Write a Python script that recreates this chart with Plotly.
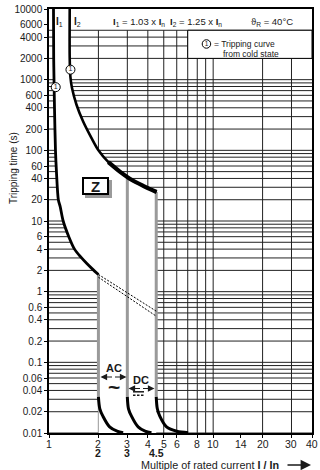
import math
import plotly.graph_objects as go

# ---------------- data ----------------
# I1 boundary (lower tripping limit), multiple of In vs seconds
i1_x = [1.065, 1.068, 1.073, 1.08, 1.095, 1.11, 1.14, 1.17, 1.22, 1.32, 1.43, 1.56, 1.70, 1.855, 2.0]
i1_t = [10000, 2000, 1000, 400, 100, 50, 20, 16, 10, 6, 4, 3.1, 2.5, 2.05, 1.75]

# I2 boundary (upper tripping limit)
i2_x = [1.337, 1.337, 1.35, 1.381, 1.469, 1.612, 1.813, 2.0, 2.3, 2.7, 3.2, 3.8, 4.52]
i2_t = [10000, 2000, 1100, 760, 445, 258, 150, 100, 68, 50, 38, 31, 25.7]

# instantaneous (magnetic) release curves
inst_t = [0.0325, 0.022, 0.0173, 0.0122, 0.0106, 0.0101]
inst2_x = [2.0, 2.04, 2.13, 2.34, 2.6, 2.83]
inst3_x = [3.0, 3.05, 3.18, 3.49, 3.85, 4.21]
inst45_x = [4.5, 4.57, 4.73, 5.2, 6.0, 7.04]

# magnetic thresholds (grey bands) and their top ends
band_x = [2, 3, 4.5]
band_top = [1.75, 42, 25.7]
band_bottom = 0.0325

# dashed transition lines
dash_x = [2, 4.5]
dash_upper_t = [1.75, 0.53]
dash_lower_t = [1.6, 0.45]

# cold-state markers on the curves
mark_x = [1.099, 1.351]
mark_t = [783, 1385]

# ticks
y_ticks = [0.01, 0.02, 0.04, 0.06, 0.1, 0.2, 0.4, 0.6, 1, 2, 4, 6, 10, 20, 40, 60,
           100, 200, 400, 600, 1000, 2000, 4000, 6000, 10000]
y_ticktext = ["0.01", "0.02", "0.04", "0.06", "0.1", "0.2", "0.4", "0.6", "1", "2", "4", "6",
              "10", "20", "40", "60", "100", "200", "400", "600", "1000", "2000", "4000", "6000", "10000"]
x_ticks = [1, 2, 3, 4, 5, 6, 8, 10, 14.7, 20, 30, 40]
x_ticktext = ["1", "2", "3", "4", "5", "6", "8", "10", "14", "20", "30", "40"]
x_ticks2 = [2, 3, 4.5]
x_ticktext2 = ["2", "3", "4.5"]

# grid
grid_multiples = [1, 2, 3, 4, 5, 6, 7, 8, 9]
grid_decades = [0.01, 0.1, 1, 10, 100]
grid_top = [1000, 2000, 3000, 4000, 5000]
v_grid = [2, 3, 4, 5, 6, 7, 8, 9, 10, 20, 30]

# legend box extent (data units)
legend_x = [7, 40]
legend_t = [2000, 5000]

# ---------------- layout helpers ----------------
W, H = 320, 470
L, T, PW, PH = 49, 9, 263, 424
FONT = "Liberation Sans, Arial, Helvetica, sans-serif"
INK = "#1a1a1a"


def px(x):
    return (x - L) / PW


def py(y):
    return (T + PH - y) / PH


fig = go.Figure()

# grid lines
h_vals = [m * d for d in grid_decades for m in grid_multiples] + grid_top
hx, hy = [], []
for v in h_vals:
    hx += [1, 40, None]
    hy += [v, v, None]
fig.add_trace(go.Scatter(x=hx, y=hy, mode="lines", line=dict(color="#222", width=1),
                         hoverinfo="skip", showlegend=False))
vx, vy = [], []
for v in v_grid:
    vx += [v, v, None]
    vy += [0.01, 5000, None]
fig.add_trace(go.Scatter(x=vx, y=vy, mode="lines", line=dict(color="#222", width=1),
                         hoverinfo="skip", showlegend=False))

# white tripping zone
poly_x = i1_x + [2, 4.5] + i2_x[::-1]
poly_t = i1_t + [0.01, 0.01] + i2_t[::-1]
fig.add_trace(go.Scatter(x=poly_x, y=poly_t, mode="lines", fill="toself", fillcolor="white",
                         line=dict(width=0, color="white"), hoverinfo="skip", showlegend=False))

# grey bands
for bx, bt in zip(band_x, band_top):
    fig.add_trace(go.Scatter(x=[bx, bx], y=[bt, band_bottom], mode="lines",
                             line=dict(color="#9a9a9a", width=3), hoverinfo="skip", showlegend=False))

# dashed lines
for dt in (dash_upper_t, dash_lower_t):
    fig.add_trace(go.Scatter(x=dash_x, y=dt, mode="lines",
                             line=dict(color="black", width=1, dash="2px,1.5px"),
                             hoverinfo="skip", showlegend=False))

# instantaneous curves
for ix in (inst2_x, inst3_x, inst45_x):
    fig.add_trace(go.Scatter(x=ix, y=inst_t, mode="lines",
                             line=dict(color="black", width=3, shape="spline", smoothing=0.9),
                             hoverinfo="skip", showlegend=False))

# thermal curves
fig.add_trace(go.Scatter(x=i1_x, y=i1_t, mode="lines",
                         line=dict(color="black", width=2.8, shape="spline", smoothing=0.8),
                         hoverinfo="skip", showlegend=False))
fig.add_trace(go.Scatter(x=i2_x, y=i2_t, mode="lines",
                         line=dict(color="black", width=2.6, shape="spline", smoothing=0.8),
                         hoverinfo="skip", showlegend=False))
fig.add_trace(go.Scatter(x=i2_x[8:], y=i2_t[8:], mode="lines",
                         line=dict(color="black", width=4.2, shape="spline", smoothing=0.8),
                         hoverinfo="skip", showlegend=False))

# cold-state markers
fig.add_trace(go.Scatter(x=mark_x, y=mark_t, mode="markers+text", text=["1", "1"],
                         textposition="middle center",
                         textfont=dict(family=FONT, size=7, color=INK),
                         marker=dict(symbol="circle", size=9, color="white",
                                     line=dict(color="black", width=1)),
                         hoverinfo="skip", showlegend=False, cliponaxis=False))

# legend box
fig.add_trace(go.Scatter(x=[legend_x[0], legend_x[1], legend_x[1], legend_x[0], legend_x[0]],
                         y=[legend_t[0], legend_t[0], legend_t[1], legend_t[1], legend_t[0]],
                         mode="lines", fill="toself", fillcolor="white",
                         line=dict(color="black", width=1), hoverinfo="skip", showlegend=False))

anns = []


def txt(x, y, s, size=10, xanchor="center", angle=0, **kw):
    anns.append(dict(x=px(x), y=py(y), xref="paper", yref="paper", text=s, showarrow=False,
                     xanchor=xanchor, yanchor="middle", textangle=angle,
                     font=dict(family=FONT, size=size, color=INK), **kw))


def arrow(x_tip, y_tip, dx, size=1.2, width=1.1):
    anns.append(dict(x=px(x_tip), y=py(y_tip), xref="paper", yref="paper", text="",
                     showarrow=True, ax=dx, ay=0, arrowhead=2, arrowsize=size,
                     arrowwidth=width, arrowcolor=INK))


# legend circle (marker) and text
fig.add_trace(go.Scatter(x=[9.1], y=[3200], mode="markers+text", text=["1"],
                         textposition="middle center", textfont=dict(family=FONT, size=6.5, color=INK),
                         marker=dict(symbol="circle", size=8.5, color="white",
                                     line=dict(color="black", width=1)),
                         hoverinfo="skip", showlegend=False))
txt(211.5, 44, "= Tripping curve", size=8.5, xanchor="left")
txt(221, 53.5, "from cold state", size=8.5, xanchor="left")

# header
txt(59.5, 22.5, "<b>I</b><sub>1</sub>", size=10)
txt(77, 22.5, "<b>I</b><sub>2</sub>", size=10)
txt(139, 22.5, "<b>I</b><sub>1</sub> = 1.03 x <b>I</b><sub>n</sub>", size=9.5)
txt(196, 22.5, "<b>I</b><sub>2</sub> = 1.25 x <b>I</b><sub>n</sub>", size=9.5)
txt(272, 22.5, "ϑ<sub>R</sub> = 40°C", size=9.5)

# Z box with shadow
for shift, bg, bc in ((3, "#9a9a9a", "#9a9a9a"), (0, "white", "black")):
    anns.append(dict(x=px(95.5), y=py(185.5), xref="paper", yref="paper", text="<b>Z</b>",
                     showarrow=False, xanchor="center", yanchor="middle",
                     xshift=shift, yshift=-shift, bgcolor=bg, bordercolor=bc, borderwidth=2,
                     borderpad=1, width=21, height=12,
                     font=dict(family=FONT, size=15, color=INK if shift == 0 else bg)))

# AC / DC labels
txt(113.5, 367.5, "<b>AC</b>", size=11)
arrow(100.5, 377, 13)
arrow(126.5, 377, -13)
txt(113.5, 386.5, "<b>~</b>", size=21)
txt(140.5, 379.5, "<b>DC</b>", size=11)
arrow(128.5, 388.5, 13)
arrow(154.5, 388.5, -13)
shapes = [
    dict(type="line", xref="paper", yref="paper", x0=px(133), x1=px(144), y0=py(391.8), y1=py(391.8),
         line=dict(color=INK, width=1.5)),
    dict(type="line", xref="paper", yref="paper", x0=px(133), x1=px(144), y0=py(395.2), y1=py(395.2),
         line=dict(color=INK, width=1.5, dash="2.5px,1.5px")),
]

# x tick labels: first row (regular) and second row (bold)
for v, s in zip(x_ticks, x_ticktext):
    anns.append(dict(x=math.log10(v), y=py(443.5), xref="x", yref="paper", text=s,
                     showarrow=False, xanchor="center", yanchor="middle",
                     font=dict(family=FONT, size=10.5, color=INK)))
for v, s in zip(x_ticks2, x_ticktext2):
    anns.append(dict(x=math.log10(v), y=py(453), xref="x", yref="paper", text="<b>" + s + "</b>",
                     showarrow=False, xanchor="center", yanchor="middle",
                     font=dict(family=FONT, size=10.5, color=INK)))

# axis titles
txt(13, 168, "Tripping time (s)", size=10, angle=-90)
txt(139, 465, "Multiple of rated current <b>I / In</b>", size=10.8, xanchor="left")
arrow(311, 465, -25, size=1.6, width=1.3)

fig.update_layout(
    width=W, height=H,
    margin=dict(l=L, r=W - L - PW, t=T, b=H - T - PH, autoexpand=False),
    paper_bgcolor="white", plot_bgcolor="white",
    showlegend=False,
    annotations=anns, shapes=shapes,
    xaxis=dict(type="log", range=[0, math.log10(40)], showgrid=False, zeroline=False,
               showline=True, linecolor="black", linewidth=1.5, mirror=True,
               ticks="outside", ticklen=3, tickwidth=1, tickcolor="black",
               tickvals=x_ticks, showticklabels=False, automargin=False, fixedrange=True),
    yaxis=dict(type="log", range=[-2, 4], showgrid=False, zeroline=False,
               showline=True, linecolor="black", linewidth=1.5, mirror=True,
               ticks="outside", ticklen=3, tickwidth=1, tickcolor="black",
               tickvals=y_ticks, ticktext=y_ticktext, automargin=False,
               tickfont=dict(family=FONT, size=10, color=INK), fixedrange=True),
)

fig.write_html("out.html", config={"displayModeBar": False},
               post_script="document.body.style.margin='0';document.body.style.padding='0';"
                           "document.body.style.overflow='hidden';")
